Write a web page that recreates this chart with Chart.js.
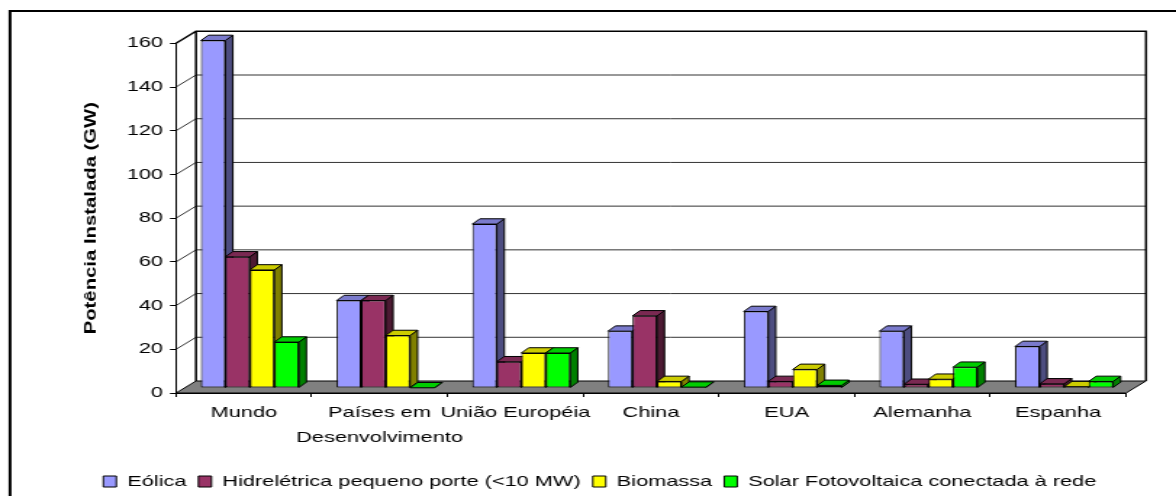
<!DOCTYPE html>
<html><head><meta charset="utf-8">
<script src="https://cdn.jsdelivr.net/npm/chart.js@4/dist/chart.umd.min.js"></script>
<style>html,body{margin:0;padding:0;background:#fff;overflow:hidden}</style>
</head><body>
<canvas id="c" width="811" height="496" style="display:block;width:1176px;height:496px"></canvas>
<script>
// ---- data ----
const categories = ['Mundo', ['Países em', 'Desenvolvimento'], 'União Européia', 'China', 'EUA', 'Alemanha', 'Espanha'];
const seriesNames = ['Eólica', 'Hidrelétrica pequeno porte (<10 MW)', 'Biomassa', 'Solar Fotovoltaica conectada à rede'];
const eolica = [159, 40, 75, 26, 35, 26, 19];
const hidreletrica = [60, 40, 12, 33, 3, 1.7, 1.9];
const biomassa = [54, 24, 16, 3, 8.5, 4, 0.6];
const solarFV = [21, 0.1, 16, 0.4, 1.2, 9.5, 3];
const yMin = 0, yMax = 160, yStep = 20;
const yTitle = 'Potência Instalada (GW)';

// ---- styles ----
const frontColors = ['#9999ff', '#993366', '#ffff00', '#00ff00'];
const sideColors = ['#4d4d80', '#4d1a33', '#808000', '#008000'];
const topColors = ['#7a7acc', '#7a2952', '#cccc00', '#00cc00'];

// ---- geometry (canvas is stretched horizontally by S via CSS) ----
const W = 811, H = 496, S = 1176 / W;
const sx = v => v / S;
const FRONT_L = sx(176), FRONT_R = sx(1126);
const BACK_DX = sx(20), BACK_DY = -12;
const BAR_DX = sx(6), BAR_DY = -5;
const DEP_DX = sx(7.5), DEP_DY = -5.3;
const PAD_TOP = 43.3, PAD_BOTTOM = -3, PAD_RIGHT = W - FRONT_R, LEG_PAD = 8.3;
const PAD_LEFT = sx(103.3) - LEG_PAD;
const AXIS_BOTTOM = 393;

Chart.defaults.font.family = "'Liberation Sans', Arial, sans-serif";
Chart.defaults.color = '#000';

function poly(ctx, pts, fill, stroke, lw) {
  ctx.beginPath();
  ctx.moveTo(pts[0][0], pts[0][1]);
  for (let i = 1; i < pts.length; i++) ctx.lineTo(pts[i][0], pts[i][1]);
  ctx.closePath();
  if (fill) { ctx.fillStyle = fill; ctx.fill(); }
  if (stroke) { ctx.strokeStyle = stroke; ctx.lineWidth = lw || 1; ctx.stroke(); }
}

const scene = {
  id: 'scene3d',
  beforeDraw(chart) {
    const {ctx, chartArea: a} = chart;
    const y = chart.scales.y;
    ctx.save();
    ctx.fillStyle = '#fff';
    ctx.fillRect(0, 0, W, H);
    // outer frame
    ctx.strokeStyle = '#000';
    ctx.lineWidth = 2;
    ctx.beginPath();
    ctx.moveTo(sx(10), H + 5); ctx.lineTo(sx(10), 11); ctx.lineTo(W + 5, 11);
    ctx.stroke();

    const bL = a.left + BACK_DX, bR = a.right + BACK_DX;
    const bT = y.getPixelForValue(yMax) + BACK_DY, bB = y.getPixelForValue(yMin) + BACK_DY;
    // back wall gridlines + side-wall diagonals
    ctx.lineWidth = 1;
    ctx.strokeStyle = '#333';
    for (let v = yMin + yStep; v < yMax; v += yStep) {
      const py = y.getPixelForValue(v);
      ctx.beginPath();
      ctx.moveTo(a.left, py); ctx.lineTo(bL, py + BACK_DY); ctx.lineTo(bR, py + BACK_DY);
      ctx.stroke();
    }
    // back wall frame
    ctx.strokeStyle = '#000';
    ctx.lineWidth = 1.5;
    ctx.beginPath();
    ctx.moveTo(a.left, a.top); ctx.lineTo(bL, bT); ctx.lineTo(bR, bT); ctx.lineTo(bR, bB);
    ctx.moveTo(bL, bT); ctx.lineTo(bL, bB);
    ctx.stroke();
    // floor
    poly(ctx, [[a.left, a.bottom], [a.right, a.bottom], [bR, bB], [bL, bB]], '#808080', '#000', 1);

    // y-axis title (rotated, stretched along its direction)
    ctx.translate(sx(91), (a.top + a.bottom) / 2);
    ctx.scale(1 / S, 1.4);
    ctx.rotate(-Math.PI / 2);
    ctx.font = "bold 14.5px 'Liberation Sans', Arial, sans-serif";
    ctx.fillStyle = '#000';
    ctx.textAlign = 'center';
    ctx.textBaseline = 'middle';
    ctx.fillText(yTitle, 0, 0);
    ctx.restore();
  },
  beforeDatasetsDraw(chart) {
    const ctx = chart.ctx;
    ctx.save();
    ctx.translate(BAR_DX, BAR_DY);
    ctx.lineJoin = 'round';
    chart.data.datasets.forEach((ds, i) => {
      const meta = chart.getDatasetMeta(i);
      meta.data.forEach(el => {
        const {x, y, base, width} = el.getProps(['x', 'y', 'base', 'width'], true);
        const l = x - width / 2, r = x + width / 2;
        el.draw(ctx);
        poly(ctx, [[r, y], [r + DEP_DX, y + DEP_DY], [r + DEP_DX, base + DEP_DY], [r, base]], sideColors[i], '#000', 1);
        poly(ctx, [[l, y], [l + DEP_DX, y + DEP_DY], [r + DEP_DX, y + DEP_DY], [r, y]], topColors[i], '#000', 1);
      });
    });
    ctx.restore();
    return false;
  }
};

new Chart(document.getElementById('c'), {
  type: 'bar',
  data: {
    labels: categories,
    datasets: [eolica, hidreletrica, biomassa, solarFV].map((d, i) => ({
      label: seriesNames[i],
      data: d,
      backgroundColor: frontColors[i],
      borderColor: '#000',
      borderWidth: 1,
      borderSkipped: false
    }))
  },
  options: {
    responsive: false,
    devicePixelRatio: 1,
    animation: false,
    events: [],
    layout: {padding: {top: PAD_TOP, bottom: PAD_BOTTOM, left: PAD_LEFT, right: PAD_RIGHT}},
    datasets: {bar: {categoryPercentage: 0.722, barPercentage: 1}},
    plugins: {
      legend: {
        position: 'bottom',
        align: 'start',
        labels: {boxWidth: sx(13), boxHeight: 11, padding: LEG_PAD, color: '#000', font: {size: 15}}
      },
      tooltip: {enabled: false}
    },
    scales: {
      x: {
        grid: {display: true, drawOnChartArea: false, drawTicks: true, tickLength: 4, color: '#000', offset: true},
        border: {display: true, color: '#000', width: 1},
        ticks: {color: '#000', font: {size: 15, lineHeight: 25 / 15}, padding: 3.5, maxRotation: 0, minRotation: 0, autoSkip: false},
        afterFit(s) {
          const lh = (s.chart.legend && s.chart.legend.height) || 33.3;
          s.height = H - PAD_BOTTOM - lh - AXIS_BOTTOM;
        }
      },
      y: {
        min: yMin, max: yMax,
        ticks: {stepSize: yStep, color: '#000', font: {size: 15}, padding: sx(7)},
        grid: {display: true, drawOnChartArea: false, drawTicks: true, tickLength: sx(6), color: '#000'},
        border: {display: true, color: '#000', width: 1},
        afterFit(s) { s.width = FRONT_L - PAD_LEFT; }
      }
    }
  },
  plugins: [scene]
});
</script>
</body></html>
